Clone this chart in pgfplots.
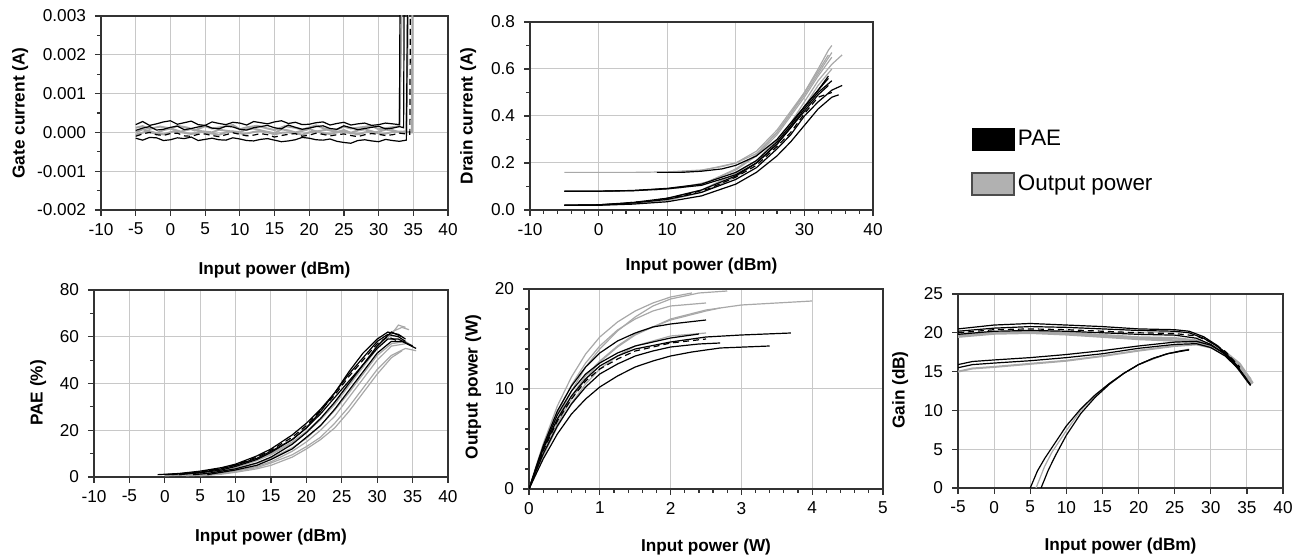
\documentclass[border=0pt]{standalone}
\usepackage{pgfplots}
\pgfplotsset{compat=1.18}
\usepackage{fontspec}
\setmainfont{Liberation Sans}
\definecolor{lgray}{HTML}{A8A8A8}
\definecolor{gridc}{HTML}{C8C8C8}
\definecolor{axc}{HTML}{333333}
\pgfplotsset{
  base/.style={
    scale only axis,
    anchor=south west,
    axis line style={axc, line width=0.9pt},
    grid=major,
    major grid style={gridc, line width=0.5pt},
    tick align=outside,
    tick pos=left,
    major tick length=3pt,
    minor tick length=2pt,
    tick style={axc, line width=0.6pt},
    every tick label/.append style={font=\fontsize{8.6}{9}\selectfont},
    /pgf/number format/assume math mode=true,
    label style={font=\bfseries\fontsize{8.6}{9}\selectfont},
    yticklabel style={xshift=-1pt},
    clip=true,
  },
  bl/.style={black, line width=0.6pt, forget plot},
  gr/.style={lgray, line width=0.6pt, forget plot},
}
\begin{document}
\begin{tikzpicture}
\useasboundingbox (0,0) rectangle (652pt,280pt);
% ---------------- Gate current
\begin{axis}[base, at={(50.5pt,175pt)}, width=173.5pt, height=97pt,
  xmin=-10, xmax=40, ymin=-0.002, ymax=0.003,
  xtick={-10,-5,...,40}, ytick={-0.002,-0.001,0,0.001,0.002,0.003},
  minor y tick num=1, scaled y ticks=false,
  yticklabel style={/pgf/number format/.cd, fixed, fixed zerofill, precision=3},
  xlabel={Input power (dBm)}, ylabel={Gate current (A)},
  xlabel style={at={(axis description cs:0.5,-0.31)}, anchor=center},
  ylabel style={at={(axis description cs:-0.233,0.5)}, anchor=center},
]
\addplot[gr, line width=1pt] coordinates {(-5,0.00012)(-4,0.00016)(-3,0.00009)(-1.5,0.00015)(0,0.0001)(1,0.00017)(2.5,0.00012)(3.5,0.00005)(5,0.00016)(6,0.0001)(7.5,0.00014)(9,0.00019)(10,0.00008)(11,0.00013)(12.5,0.00017)(14,0.0001)(15,0.00006)(16.5,0.00016)(18,0.00012)(19,0.00007)(21,0.00018)(22,0.00011)(23.5,0.00004)(25,0.00015)(26,0.0001)(27.5,0.00013)(29,0.00017)(30,0.00008)(31.5,0.00012)(33,0.00016)(33.4,0.004)};
\addplot[gr, line width=1pt] coordinates {(-5,0.0)(-4,0.00008)(-3,0.00003)(-2,-0.00002)(-1,0.00006)(0,0.0001)(1.5,0.00002)(3,0.00009)(4,0.00004)(6,0.0)(7,0.00007)(8.5,0.00003)(10,0.00001)(11,0.00008)(12,0.0001)(13.5,0.00003)(15,-0.00002)(16,0.00008)(17,0.00005)(18,0.0)(19.5,0.00006)(20,0.00009)(21,0.00002)(22.5,0.00007)(24,0.00001)(25,0.00006)(26,-0.00001)(27,0.00005)(28,0.00008)(29.5,0.0)(30,0.00002)(31,0.00007)(32,0.00006)(33,0.0)(34,0.00003)(34.3,0.004)};
\addplot[gr, line width=1pt] coordinates {(-5,-0.00006)(-3.5,0.00002)(-2,-0.00003)(-1,-0.00005)(0.5,0.00003)(2,-0.00001)(3,-0.00004)(4.5,0.00001)(6,-0.00003)(7,-0.00006)(8,0.0)(9,0.00002)(10.5,-0.00004)(11,-0.00003)(12,0.00001)(13,0.00004)(14.5,-0.00002)(15,-0.00005)(16,-0.00001)(17,0.0)(18.5,-0.00004)(19,-0.00006)(20,0.0)(21,0.00003)(22,-0.00002)(23,-0.00004)(24.5,0.00002)(25,0.00001)(26.5,-0.00003)(27,-0.00005)(28,0.0)(29,0.00002)(30.5,-0.00004)(31,-0.00003)(32,0.00001)(33,0.00002)(34.8,0.0)(34.9,0.004)};
\addplot[bl] coordinates {(-5,0.0002)(-4,0.00028)(-3,0.00018)(-2,0.00022)(-1,0.00027)(0,0.0003)(1,0.00021)(2,0.00025)(3,0.00029)(4,0.0002)(5,0.00018)(6,0.00027)(7,0.00023)(8,0.0002)(9,0.00026)(10,0.00024)(11,0.00019)(12,0.00028)(13,0.00025)(14,0.00022)(15,0.00027)(16,0.0003)(17,0.00023)(18,0.00026)(19,0.0002)(20,0.00021)(21,0.00025)(22,0.00027)(23,0.00019)(24,0.00023)(25,0.00026)(26,0.00019)(27,0.00022)(28,0.00024)(29,0.00018)(30,0.0002)(31,0.00024)(32,0.00022)(33,0.0002)(33.1,0.004)};
\addplot[bl] coordinates {(-5,-0.00015)(-4,-0.0002)(-3,-0.00013)(-2,-0.00014)(-1,-0.00021)(0,-0.00019)(1,-0.00014)(2,-0.00016)(3,-0.00012)(4,-0.00021)(5,-0.00018)(6,-0.00015)(7,-0.00019)(8,-0.0002)(9,-0.00014)(10,-0.00017)(11,-0.00021)(12,-0.00022)(13,-0.00018)(14,-0.00016)(15,-0.0002)(16,-0.00024)(17,-0.00022)(18,-0.00019)(19,-0.00013)(20,-0.00015)(21,-0.00019)(22,-0.0002)(23,-0.00017)(24,-0.00023)(25,-0.00026)(26,-0.00028)(27,-0.00021)(28,-0.00019)(29,-0.00022)(30,-0.00024)(31,-0.00018)(32,-0.00021)(33,-0.00023)(34,-0.0002)(34.2,0.004)};
\addplot[bl] coordinates {(-5,0.00005)(-4,0.00011)(-3,0.00015)(-2,0.00006)(-1,0.00008)(0,0.00013)(1,0.00016)(2,0.00007)(3,0.0001)(4,0.00014)(5,0.00018)(6,0.00011)(7,0.00009)(8,0.00016)(9,0.00014)(10,0.00008)(11,0.00006)(12,0.00012)(13,0.00015)(14,0.00018)(15,0.00012)(16,0.00009)(17,0.00019)(18,0.00013)(19,0.00008)(20,0.00011)(21,0.00015)(22,0.00017)(23,0.0001)(24,0.00008)(25,0.00017)(26,0.00012)(27,0.00007)(28,0.0001)(29,0.00013)(30,0.00016)(31,0.00009)(32,0.00011)(33,0.00015)(33.6,0.00012)(33.7,0.004)};
\addplot[bl, densely dashed] coordinates {(-5,-0.0001)(-4,-0.00004)(-3,0.0)(-2,-0.00006)(-1,-0.00008)(0,-0.00003)(1,-0.00002)(2,-0.00009)(3,-0.0001)(4,-0.00005)(5,-0.00004)(6,-0.00008)(7,-0.00011)(8,-0.00006)(9,-0.00001)(10,-0.00005)(11,-0.00009)(12,-0.00007)(13,-0.00003)(14,-0.00006)(15,-0.00012)(16,-0.00008)(17,-0.00005)(18,-0.00003)(19,-0.0001)(20,-0.00007)(21,-0.00002)(22,-0.00005)(23,-0.00009)(24,-0.00006)(25,-0.00004)(26,-0.00008)(27,-0.00011)(28,-0.00006)(29,-0.00003)(30,-0.00005)(31,-0.00008)(32,-0.00006)(33,-0.00002)(34.5,-0.00005)(34.6,0.004)};
\end{axis}
% ---------------- Drain current
\begin{axis}[base, at={(265pt,175pt)}, width=171.5pt, height=94pt,
  xmin=-10, xmax=40, ymin=0, ymax=0.8,
  xtick={-10,0,...,40}, ytick={0,0.2,...,0.8},
  minor x tick num=4, minor y tick num=1,
  yticklabel style={/pgf/number format/.cd, fixed, fixed zerofill, precision=1},
  xlabel={Input power (dBm)}, ylabel={Drain current (A)},
  xlabel style={at={(axis description cs:0.5,-0.30)}, anchor=center},
  ylabel style={at={(axis description cs:-0.18,0.5)}, anchor=center},
  legend style={at={(axis description cs:1.2857,0.441)}, anchor=north west, draw=none, fill=none,
    font=\fontsize{11.2}{12}\selectfont, inner sep=0pt, row sep=10pt,
    nodes={inner sep=1.5pt}},
  legend cell align=left,
  legend image code/.code={\draw[#1] (0pt,-5.5pt) rectangle (21pt,5.5pt);},
]
\addlegendimage{fill=black, draw=black}
\addlegendentry{PAE}
\addlegendimage{fill=lgray!90, draw=black!70, line width=0.8pt}
\addlegendentry{Output power}
\addplot[gr] coordinates {(-5,0.16)(0,0.16)(5,0.16)(10,0.162)(15,0.17)(18,0.185)(20,0.2)(23,0.25)(26,0.34)(28,0.42)(30,0.5)(32,0.6)(33.5,0.68)(34,0.70)};
\addplot[gr] coordinates {(-5,0.08)(0,0.08)(5,0.082)(10,0.09)(15,0.11)(20,0.17)(23,0.23)(26,0.32)(28,0.4)(30,0.48)(32,0.57)(34,0.65)};
\addplot[gr] coordinates {(-5,0.02)(0,0.022)(5,0.03)(10,0.048)(15,0.085)(20,0.155)(23,0.21)(26,0.3)(28,0.37)(30,0.46)(32,0.55)(34,0.62)(35.5,0.66)};
\addplot[gr] coordinates {(-5,0.02)(0,0.021)(5,0.027)(10,0.04)(15,0.075)(20,0.14)(23,0.2)(26,0.28)(28,0.36)(30,0.44)(32,0.53)(34,0.6)};
\addplot[gr] coordinates {(10,0.16)(15,0.168)(20,0.2)(23,0.24)(26,0.33)(28,0.41)(30,0.49)(32,0.58)(34,0.67)};
\addplot[gr] coordinates {(8,0.085)(12,0.095)(16,0.12)(20,0.175)(23,0.235)(26,0.33)(28,0.41)(30,0.5)(32,0.59)(33.5,0.66)};
\addplot[bl] coordinates {(-5,0.02)(0,0.02)(5,0.025)(10,0.035)(15,0.06)(20,0.11)(23,0.16)(26,0.23)(28,0.29)(30,0.36)(32,0.43)(34,0.48)(35,0.49)};
\addplot[bl] coordinates {(-5,0.02)(0,0.022)(5,0.03)(10,0.045)(15,0.075)(20,0.13)(23,0.18)(26,0.26)(28,0.32)(30,0.4)(32,0.46)(34,0.51)(35.5,0.53)};
\addplot[bl] coordinates {(-5,0.08)(0,0.08)(5,0.082)(10,0.09)(15,0.105)(20,0.15)(23,0.2)(26,0.28)(28,0.35)(30,0.42)(32,0.49)(33.5,0.53)};
\addplot[bl] coordinates {(8.5,0.16)(12,0.16)(15,0.165)(18,0.175)(20,0.19)(23,0.23)(26,0.3)(28,0.37)(30,0.44)(32,0.51)(33.5,0.56)};
\addplot[bl] coordinates {(-5,0.02)(0,0.022)(5,0.032)(10,0.05)(15,0.085)(20,0.145)(23,0.2)(26,0.28)(28,0.35)(30,0.43)(32,0.5)(34,0.55)};
\addplot[bl] coordinates {(-5,0.08)(0,0.08)(5,0.083)(10,0.092)(15,0.11)(20,0.16)(23,0.21)(26,0.29)(28,0.36)(30,0.44)(32,0.51)(33.5,0.57)};
\addplot[bl, densely dashed] coordinates {(4,0.03)(8,0.04)(12,0.06)(16,0.09)(20,0.14)(23,0.19)(26,0.27)(28,0.33)(30,0.41)(32,0.48)(34,0.5)};
\end{axis}
% ---------------- PAE
\begin{axis}[base, at={(47pt,41.5pt)}, width=177pt, height=93.5pt,
  xmin=-10, xmax=40, ymin=0, ymax=80,
  xtick={-10,-5,...,40}, ytick={0,20,...,80}, minor y tick num=1,
  xlabel={Input power (dBm)}, ylabel={PAE (\%)},
  xlabel style={at={(axis description cs:0.5,-0.32)}, anchor=center},
  ylabel style={at={(axis description cs:-0.158,0.45)}, anchor=center},
]
\addplot[gr] coordinates {(3,0.5)(6,1)(8,1.5)(10,2.5)(13,4)(15,6)(18,9.5)(20,13)(22,17)(24,23)(26,30)(28,38)(30,46)(32,52)(34,55)(35.5,54)};
\addplot[gr] coordinates {(5,0.5)(8,1.2)(10,2)(13,3.5)(15,5)(18,8.5)(20,12)(22,16)(24,21)(26,28)(28,36)(30,44)(32,51)(33.5,54)};
\addplot[gr] coordinates {(2,0.8)(5,1.5)(8,3)(10,4.5)(13,7.5)(15,10)(18,15)(20,19.5)(22,25)(24,32)(26,40)(28,48)(30,56)(32,62)(33.5,64)(34.5,63)};
\addplot[gr] coordinates {(6,0.8)(8,1.5)(10,2.5)(13,4.5)(15,6.5)(18,11)(20,15)(22,20)(24,26)(26,34)(28,42)(30,50)(32,56)(34,57)};
\addplot[gr] coordinates {(0,0.5)(4,1)(8,2.5)(10,4)(13,7)(15,9.5)(18,14.5)(20,19)(22,24.5)(24,31)(26,39)(28,47)(30,55)(32,61)(33,65)(34,64)};
\addplot[gr] coordinates {(4,0.6)(8,2)(10,3.2)(13,5.8)(15,8)(18,12.5)(20,16.5)(22,22)(24,28.5)(26,36)(28,44)(30,52)(32,57)(34,58)(35,56)};
\addplot[bl] coordinates {(-1,1)(2,1.5)(5,2.5)(8,4)(10,5.5)(13,9)(15,12)(18,18)(20,23)(22,29)(24,36)(26,44)(28,51)(30,58)(31.5,61)(33,60)(34,58)};
\addplot[bl] coordinates {(0,1)(3,1.5)(5,2)(8,3.5)(10,5)(13,8)(15,11)(18,16)(20,21)(22,27)(24,34)(26,41)(28,48)(30,55)(31.5,59)(33,59)(35,56)};
\addplot[bl] coordinates {(4,1)(6,1.5)(8,2.5)(10,3.5)(13,6)(15,8.5)(18,14)(20,19)(22,25)(24,32)(26,40)(28,48)(30,56)(32,62)(33.5,60)};
\addplot[bl] coordinates {(2,1)(5,1.8)(8,3)(10,4.5)(13,7.5)(15,10.5)(18,16)(20,21)(22,28)(24,36)(26,45)(28,53)(30,59)(31.5,62)(33,61)(34,59)};
\addplot[bl] coordinates {(6,1)(8,2)(10,3)(13,5)(15,7.5)(18,12)(20,17)(22,22)(24,29)(26,37)(28,45)(30,53)(32,58)(33.5,58)(35.5,55)};
\addplot[bl, densely dashed] coordinates {(1,1)(5,2.2)(8,3.8)(10,5.2)(13,8.5)(15,11.5)(18,17)(20,22)(22,28.5)(24,35)(26,43)(28,50)(30,57)(31.5,60)(33,58)};
\end{axis}
% ---------------- Output power
\begin{axis}[base, at={(264.5pt,35.5pt)}, width=177pt, height=100pt,
  xmin=0, xmax=5, ymin=0, ymax=20,
  xtick={0,1,...,5}, ytick={0,10,20}, minor x tick num=4, minor y tick num=4,
  xlabel={Input power (W)}, ylabel={Output power (W)},
  xlabel style={at={(axis description cs:0.5,-0.29)}, anchor=center},
  ylabel style={at={(axis description cs:-0.158,0.51)}, anchor=center},
]
\addplot[gr] coordinates {(0,0)(0.1,2)(0.2,3.8)(0.4,7)(0.6,9.8)(0.8,12.2)(1,14)(1.25,15.8)(1.5,17.2)(1.75,18.3)(2,19)(2.4,19.6)(2.8,19.8)};
\addplot[gr] coordinates {(0,0)(0.1,1.8)(0.2,3.5)(0.4,6.5)(0.6,9)(0.8,11)(1,12.7)(1.25,14.2)(1.5,15.4)(2,17)(2.5,17.9)(3,18.4)(4,18.8)};
\addplot[gr] coordinates {(0,0)(0.1,2.3)(0.2,4.5)(0.4,8.3)(0.6,11.2)(0.8,13.5)(1,15.2)(1.25,16.7)(1.5,17.8)(1.75,18.6)(2,19.2)(2.3,19.6)};
\addplot[gr] coordinates {(0,0)(0.1,1.9)(0.2,3.7)(0.4,6.8)(0.6,9.3)(0.8,11.3)(1,12.8)(1.25,14.3)(1.5,15.5)(2,16.9)(2.5,17.8)(2.7,18.1)};
\addplot[gr] coordinates {(0,0)(0.1,1.7)(0.2,3.3)(0.4,6.2)(0.6,8.6)(0.8,10.5)(1,12)(1.25,13.3)(1.5,14.3)(2,15.3)(2.5,15.6)};
\addplot[gr] coordinates {(0,0)(0.1,2.1)(0.2,4.1)(0.4,7.6)(0.6,10.4)(0.8,12.6)(1,14.3)(1.25,15.9)(1.5,17)(1.75,17.8)(2,18.3)(2.5,18.6)};
\addplot[bl] coordinates {(0,0)(0.1,1.5)(0.2,3)(0.4,5.5)(0.6,7.5)(0.8,9)(1,10.2)(1.25,11.3)(1.5,12.2)(1.75,12.8)(2,13.3)(2.3,13.7)(2.7,14.1)(3.4,14.3)};
\addplot[bl] coordinates {(0,0)(0.1,1.8)(0.2,3.5)(0.4,6.3)(0.6,8.5)(0.8,10.2)(1,11.5)(1.25,12.5)(1.5,13.3)(1.75,13.8)(2,14.2)(2.4,14.5)(2.7,14.6)};
\addplot[bl] coordinates {(0,0)(0.1,2)(0.2,4)(0.4,7)(0.6,9.3)(0.8,11)(1,12.3)(1.25,13.3)(1.5,14)(2,14.7)(2.5,15.2)(3,15.4)(3.7,15.6)};
\addplot[bl] coordinates {(0,0)(0.1,2.2)(0.2,4.3)(0.4,7.8)(0.6,10.3)(0.8,12.2)(1,13.6)(1.25,14.8)(1.5,15.6)(1.75,16.2)(2,16.5)(2.5,16.9)};
\addplot[bl] coordinates {(0,0)(0.1,2.1)(0.2,4.1)(0.4,7.4)(0.6,9.8)(0.8,11.5)(1,12.6)(1.25,13.6)(1.5,14.3)(2,15.1)(2.4,15.5)};
\addplot[bl, densely dashed] coordinates {(0,0)(0.1,1.9)(0.2,3.8)(0.4,6.8)(0.6,9)(0.8,10.8)(1,12)(1.25,13)(1.5,13.8)(2,14.6)(2.5,15)};
\end{axis}
% ---------------- Gain
\begin{axis}[base, at={(479pt,36pt)}, width=162.5pt, height=97pt,
  xmin=-5, xmax=40, ymin=0, ymax=25,
  xtick={-5,0,...,40}, ytick={0,5,...,25},
  xlabel={Input power (dBm)}, ylabel={Gain (dB)},
  xlabel style={at={(axis description cs:0.5,-0.30)}, anchor=center},
  ylabel style={at={(axis description cs:-0.178,0.505)}, anchor=center},
]
\addplot[gr, line width=1.2pt] coordinates {(-5,19.5)(0,19.9)(5,20)(10,19.8)(15,19.5)(20,19.2)(25,19)(28,18.8)(30,18.2)(32,17.3)(34,15.8)(35.5,14)};
\addplot[gr, line width=1.2pt] coordinates {(-5,19.7)(0,20)(5,20.2)(10,20)(15,19.7)(20,19.4)(25,19.3)(28,19)(30,18.4)(32,17.5)(34,16)(35.8,13.5)};
\addplot[gr, line width=1pt] coordinates {(-5,15)(-3,15.4)(0,15.6)(5,16)(10,16.4)(15,17)(20,17.7)(25,18.3)(28,18.5)(30,18.1)(32,17.2)(34,15.5)(35.7,13.4)};
\addplot[gr] coordinates {(5.8,0)(7,2.8)(8,4.6)(10,7.4)(12,10)(14,11.9)(16,13.5)(18,14.8)(20,15.9)(24,17.3)(27,17.9)};
\addplot[bl] coordinates {(-5,20.2)(0,20.6)(5,20.8)(10,20.7)(15,20.5)(20,20.3)(25,20.2)(27,20)(29,19.3)(31,18.2)(33,16.3)(35,13.8)(35.5,13.2)};
\addplot[bl] coordinates {(-5,19.8)(0,20.2)(5,20.3)(10,20.2)(15,20)(20,19.8)(25,19.7)(28,19.3)(30,18.5)(32,17.2)(34,15.2)(35.5,13.3)};
\addplot[bl] coordinates {(-5,20.5)(0,21)(5,21.2)(10,21)(15,20.8)(20,20.5)(25,20.4)(27,20.2)(29,19.5)(31,18.3)(33,16.5)(35,14)};
\addplot[bl, densely dashed] coordinates {(-5,20)(0,20.4)(5,20.5)(10,20.4)(15,20.2)(20,20)(25,19.9)(28,19.6)(30,18.8)(32,17.6)(34,15.6)};
\addplot[bl] coordinates {(-5,15.5)(-3,15.9)(0,16.1)(5,16.4)(10,16.8)(15,17.3)(20,18)(25,18.5)(28,18.6)(30,18.1)(32,17)(34,15.2)(35.5,13.3)};
\addplot[bl] coordinates {(-5,15.9)(-3,16.3)(0,16.5)(5,16.8)(10,17.2)(15,17.7)(20,18.3)(25,18.8)(28,18.9)(30,18.4)(32,17.3)(34,15.4)};
\addplot[bl] coordinates {(5,0)(6,2.2)(7,3.8)(8,5.2)(9,6.6)(10,8)(12,10.2)(14,12)(16,13.5)(18,14.8)(20,15.9)(22,16.7)(24,17.3)(26,17.7)(27,17.8)};
\addplot[bl] coordinates {(6.5,0)(7.5,2.3)(8.5,4.2)(10,6.8)(12,9.6)(14,11.7)(16,13.4)(18,14.8)(20,15.9)(22,16.7)(24,17.3)(27,17.8)};
\end{axis}
\end{tikzpicture}
\end{document}
